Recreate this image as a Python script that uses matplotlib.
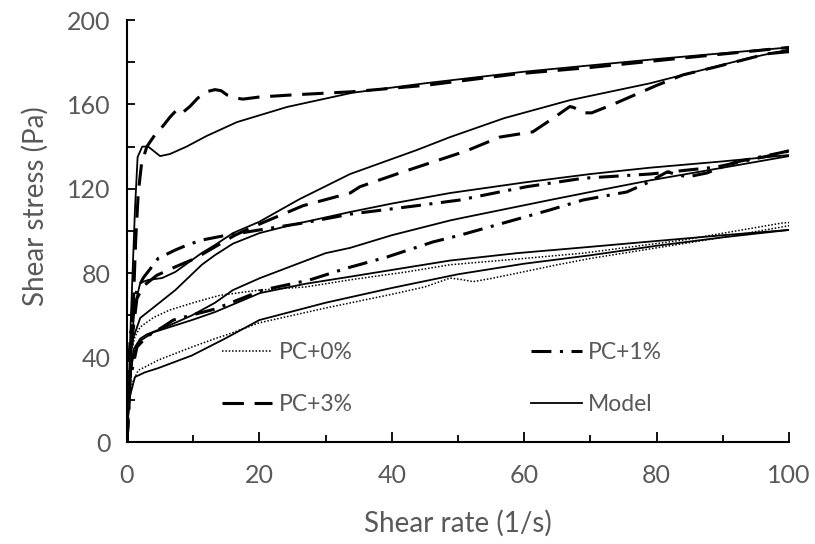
import matplotlib
matplotlib.use("Agg")
import matplotlib.pyplot as plt
from matplotlib.lines import Line2D
from matplotlib.ticker import MultipleLocator

# ---------------- data ----------------
# PC+3%
pc3_up_x = [0, 0.4, 0.9, 1.3, 1.7, 2.2, 3, 4.2, 5.5, 6.5, 7.7, 8.5, 9.5, 10.7, 12, 13.3, 14.2, 15.1, 16.5, 17.5, 20, 25, 34, 45, 59, 70, 84, 100]
pc3_up_y = [0, 25, 60, 95, 118, 132, 140, 145.5, 150, 154, 158, 156.4, 159, 163, 166, 167, 166.5, 164.5, 163, 162.5, 163.5, 164.5, 166, 169, 174.5, 177.5, 182, 187]
pc3_dn_x = [100, 96.7, 89, 84, 80, 73.4, 70.2, 68.9, 67.5, 66.9, 64.4, 61.3, 56.3, 51.3, 46.2, 41.2, 35.2, 33.7, 26.6, 19.8, 16.3, 10.3, 7.3, 4.5, 2.5, 1.5, 0.8, 0]
pc3_dn_y = [185, 184, 177.8, 174, 169, 160, 156, 156, 158.5, 159, 153.5, 147, 144.5, 138, 132.7, 127.5, 121, 118, 112, 103, 98, 87, 83, 79, 74, 68, 50, 0]
m3_up_x = [0, 0.6, 1.2, 1.6, 2.3, 3.2, 4, 5, 6.5, 9, 12, 16.6, 24.2, 34, 45, 60, 80, 100]
m3_up_y = [0, 60, 110, 135, 140, 140, 138, 135.5, 136.5, 140, 145, 151.6, 158.8, 165.5, 170, 175.5, 181.5, 187]
m3_dn_x = [100, 94, 79, 66.9, 57, 48.8, 43.8, 33.7, 26, 20, 16, 13.3, 11.3, 7.3, 5.3, 3.2, 2, 1.2, 0.5, 0]
m3_dn_y = [186, 182, 170, 162, 153.5, 144.5, 138.4, 127, 115, 104.4, 99, 93.4, 89.6, 80.6, 77.7, 76.8, 75.4, 65, 40, 0]

# PC+1%
pc1_up_x = [0, 0.3, 0.8, 1.5, 2.5, 3.5, 4.7, 6, 7.3, 9.2, 11.3, 14.4, 20, 27, 33.7, 43.8, 50.3, 56.3, 60.4, 68.9, 79, 89, 99, 100]
pc1_up_y = [0, 40, 62, 72, 78, 82, 87, 89, 91, 93.5, 95.7, 97.6, 100.5, 104, 108, 112, 114.7, 118.5, 121, 125, 127, 130.3, 137, 138]
pc1_dn_x = [100, 98.6, 92, 89.6, 87.6, 84.6, 81.6, 78.5, 75.5, 68.9, 63.9, 50.3, 46.2, 39.3, 33.2, 27.6, 20.5, 13.3, 9.8, 7, 5.4, 3, 1.5, 0.5, 0]
pc1_dn_y = [138, 137, 132.7, 130, 127.5, 125.6, 128, 122.7, 118.5, 114.7, 110, 98, 94.8, 87.7, 82.4, 76.8, 72, 63, 60.2, 57.8, 54.5, 50, 45, 30, 0]
m1_up_x = [0, 0.3, 0.8, 2, 4.5, 7.3, 11.3, 13.3, 16, 20, 25, 33.7, 40, 48.8, 60, 70, 79, 90, 100]
m1_up_y = [0, 30, 48, 58.8, 65, 72, 84, 88.6, 94, 99, 103, 109, 113, 118, 123, 127, 130, 133, 136]
m1_dn_x = [100, 90, 79, 70, 63.9, 50.3, 48.8, 40, 33.7, 30, 20.1, 16, 13.3, 9.8, 6.2, 3, 2, 1, 0.4, 0]
m1_dn_y = [135.5, 130, 124, 118.5, 114.7, 106, 105, 98, 92, 89.5, 77.7, 72, 66, 60, 55, 51, 49, 44, 30, 0]

# PC+0%
pc0_up_x = [0, 0.3, 0.7, 1.2, 2, 4, 6.5, 10, 14, 20, 27, 34, 42, 48.8, 60, 68.9, 84, 99, 100]
pc0_up_y = [0, 28, 44, 50, 54.5, 59, 62.6, 66, 69.5, 72, 73.5, 77, 80.5, 84, 87, 89.5, 95.7, 103.8, 104]
pc0_dn_x = [0, 0.3, 0.8, 1.7, 2.7, 4.7, 9.8, 13.3, 14.8, 20, 30, 40, 45, 48.8, 50.5, 52.3, 55, 58.9, 65, 70, 80, 90, 100]
pc0_dn_y = [0, 18, 28, 34, 35.5, 38.8, 45, 49, 50.5, 56.5, 63.5, 70, 73.5, 77.7, 77, 76, 77.5, 80, 84, 87, 92, 97, 102.5]
m0_up_x = [0, 0.3, 1, 2, 4, 7, 10, 13.3, 20.1, 27, 34, 48.8, 58.9, 70, 79, 90, 100]
m0_up_y = [0, 28, 42, 48, 52, 55, 58, 61.6, 70.6, 75, 78.5, 86, 89.5, 92.5, 95, 98, 100.5]
m0_dn_x = [0, 0.3, 1.2, 2.7, 4.7, 9.8, 14.8, 20, 30, 40, 50, 60, 70, 80, 90, 100]
m0_dn_y = [0, 20, 30.8, 33, 35, 41, 49, 57.8, 66, 73, 79.5, 84.5, 88.5, 93, 97, 100.5]

legend_labels = ["PC+0%", "PC+3%", "PC+1%", "Model"]
x_label = "Shear rate (1/s)"
y_label = "Shear stress (Pa)"

# ---------------- styles ----------------
GRAY = "#595959"
dash_style = dict(color="black", lw=2.2, dashes=(7, 3.5), solid_capstyle="butt", dash_capstyle="butt")
dashdot_style = dict(color="black", lw=2.2, dashes=(6.5, 2.8, 1, 2.8), dash_capstyle="butt")
dot_style = dict(color="black", lw=1.1, dashes=(1, 1.2))
model_style = dict(color="black", lw=1.3)

plt.rcParams["font.family"] = ["Lato", "DejaVu Sans"]

fig = plt.figure(figsize=(8.15, 5.44), dpi=100)
ax = fig.add_axes([127 / 815, 1 - 442 / 544, (789 - 127) / 815, (442 - 20) / 544])

ax.plot(pc0_up_x, pc0_up_y, **dot_style)
ax.plot(pc0_dn_x, pc0_dn_y, **dot_style)
ax.plot(pc1_up_x, pc1_up_y, **dashdot_style)
ax.plot(pc1_dn_x, pc1_dn_y, **dashdot_style)
ax.plot(pc3_up_x, pc3_up_y, **dash_style)
ax.plot(pc3_dn_x, pc3_dn_y, **dash_style)
for mx, my in [(m0_up_x, m0_up_y), (m0_dn_x, m0_dn_y), (m1_up_x, m1_up_y),
               (m1_dn_x, m1_dn_y), (m3_up_x, m3_up_y), (m3_dn_x, m3_dn_y)]:
    ax.plot(mx, my, **model_style)

ax.set_xlim(0, 100)
ax.set_ylim(0, 200)
ax.xaxis.set_major_locator(MultipleLocator(20))
ax.xaxis.set_minor_locator(MultipleLocator(10))
ax.yaxis.set_major_locator(MultipleLocator(40))
ax.yaxis.set_minor_locator(MultipleLocator(20))

for s in ["top", "right"]:
    ax.spines[s].set_visible(False)
for s in ["left", "bottom"]:
    ax.spines[s].set_linewidth(1.5)
    ax.spines[s].set_color("black")

ax.tick_params(axis="x", which="major", direction="in", length=7, width=1.3, pad=16,
               labelsize=18, labelcolor=GRAY)
ax.tick_params(axis="x", which="minor", direction="in", length=5, width=1.3)
ax.tick_params(axis="y", which="major", direction="in", length=6, width=1.3, pad=12,
               labelsize=18, labelcolor=GRAY)
ax.tick_params(axis="y", which="minor", direction="in", length=6, width=1.3)

ax.set_xlabel(x_label, fontsize=20, color=GRAY, labelpad=16)
ax.set_ylabel(y_label, fontsize=20, color=GRAY)
ax.yaxis.set_label_coords(-0.118, 0.56)

handles = [
    Line2D([], [], **dot_style),
    Line2D([], [], **dash_style),
    Line2D([], [], **dashdot_style),
    Line2D([], [], **model_style),
]
leg = ax.legend(handles, legend_labels, ncol=2, frameon=False, loc="upper left",
                bbox_to_anchor=(222 / 815, 1 - 342 / 544), bbox_transform=fig.transFigure,
                prop={"size": 16.5}, handlelength=2.2, handletextpad=0.27,
                columnspacing=7.8, labelspacing=1.35, borderpad=0, borderaxespad=0)
for t in leg.get_texts():
    t.set_color(GRAY)

fig.savefig("out.png", dpi=100)
